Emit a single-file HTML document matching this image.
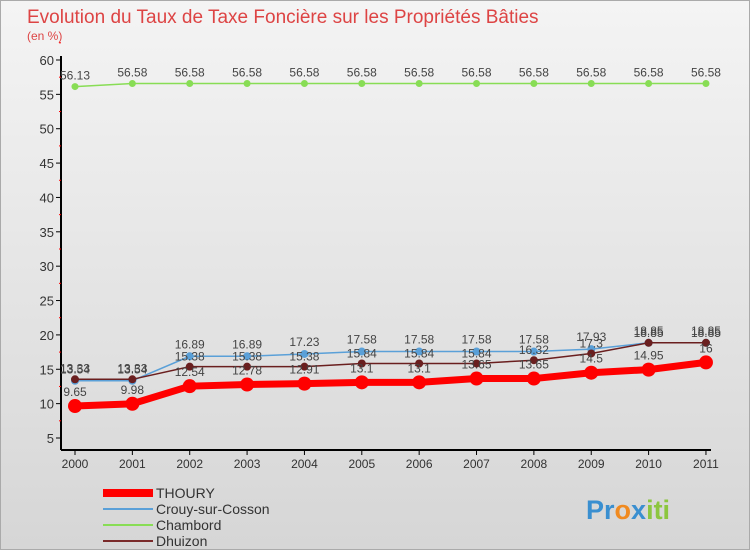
<!DOCTYPE html>
<html><head><meta charset="utf-8">
<style>
body{margin:0;width:750px;height:550px;overflow:hidden;font-family:"Liberation Sans",sans-serif;}
#wrap{position:relative;width:748px;height:548px;border:1px solid #aaa;background:linear-gradient(#f4f4f4,#d6d6d6);}
</style></head><body>
<div id="wrap">
<svg id="chart" width="748" height="548" font-family="Liberation Sans, sans-serif">
<text x="26" y="22" font-size="19" fill="#dd4444" font-weight="normal">Evolution du Taux de Taxe Foncière sur les Propriétés Bâties</text>
<text x="26" y="39" font-size="12" fill="#dd4444">(en %)</text>
<g id="axes"></g><g id="series"></g>
<g>
<rect x="102" y="488" width="50" height="8" fill="#f00"/>
<text x="155" y="497" font-size="14" fill="#333">THOURY</text>
<line x1="102" y1="508" x2="152" y2="508" stroke="#5aa0d8" stroke-width="2"/>
<text x="155" y="513" font-size="14" fill="#333">Crouy-sur-Cosson</text>
<line x1="102" y1="524" x2="152" y2="524" stroke="#88dd55" stroke-width="2"/>
<text x="155" y="529" font-size="14" fill="#333">Chambord</text>
<line x1="102" y1="540" x2="152" y2="540" stroke="#7a2a2a" stroke-width="2"/>
<text x="155" y="545" font-size="14" fill="#333">Dhuizon</text>
</g>
<text x="585" y="518" font-size="27" font-weight="bold"><tspan fill="#3a8fd0">Pr</tspan><tspan fill="#f08a20">o</tspan><tspan fill="#3a8fd0">x</tspan><tspan fill="#8cc63f">iti</tspan></text>
</svg>
</div>
<script>
const years=["2000","2001","2002","2003","2004","2005","2006","2007","2008","2009","2010","2011"];
const thoury=[9.65,9.98,12.54,12.78,12.91,13.1,13.1,13.65,13.65,14.5,14.95,16];
const crouy=[13.33,13.33,16.89,16.89,17.23,17.58,17.58,17.58,17.58,17.93,18.85,18.85];
const chambord=[56.13,56.58,56.58,56.58,56.58,56.58,56.58,56.58,56.58,56.58,56.58,56.58];
const dhuizon=[13.54,13.54,15.38,15.38,15.38,15.84,15.84,15.84,16.32,17.3,18.85,18.85];
const yTicks=[5,10,15,20,25,30,35,40,45,50,55,60];
const NS="http://www.w3.org/2000/svg";
function X(i){return 74+i*57.36;}
function Y(v){return 437-(v-5)*6.873;}
function mk(p,t,a){const e=document.createElementNS(NS,t);for(const k in a)e.setAttribute(k,a[k]);p.appendChild(e);return e;}
const ax=document.getElementById('axes');
let l=mk(ax,'line',{x1:60,y1:55,x2:60,y2:449,stroke:'#000','stroke-width':2});


l=mk(ax,'line',{x1:60,y1:449,x2:710,y2:449,stroke:'#000','stroke-width':2});


yTicks.forEach(v=>{
 mk(ax,'line',{x1:55,y1:Y(v),x2:60,y2:Y(v),stroke:'#000'});
 mk(ax,'line',{x1:58,y1:Y(v+2.5),x2:60,y2:Y(v+2.5),stroke:'#f00'});
 const t=mk(ax,'text',{x:53,y:Y(v)+5,'font-size':13,'text-anchor':'end',fill:'#333'});
 t.textContent=v;
 
 
});
years.forEach((y,i)=>{
 mk(ax,'line',{x1:X(i),y1:449,x2:X(i),y2:454,stroke:'#000'});
 const t=mk(ax,'text',{x:X(i),y:467,'font-size':12,'text-anchor':'middle',fill:'#333'});
 t.textContent=y;
 
 
});
const sg=document.getElementById('series');
function draw(name,data,color,w,r,dy){
 const g=mk(sg,'g',{});
 
 
 const p=mk(g,'polyline',{points:data.map((v,i)=>X(i)+','+Y(v)).join(' '),fill:'none',stroke:color,'stroke-width':w});
 
 
 data.forEach((v,i)=>{
  const c=mk(g,'circle',{cx:X(i),cy:Y(v),r:r,fill:color});
  
  
  const t=mk(g,'text',{x:X(i),y:Y(v)+dy,'font-size':12,'text-anchor':'middle',fill:'#444'});
  t.textContent=v;
  
  
 });
}
draw('chambord',chambord,'#88dd55',1.5,3.5,-7);
draw('crouy',crouy,'#5aa0d8',1.5,4,-8);
draw('dhuizon',dhuizon,'#6a1f1f',1.5,4,-6);
draw('thoury',thoury,'#f00',7,7,-10);
</script>
</body></html>
